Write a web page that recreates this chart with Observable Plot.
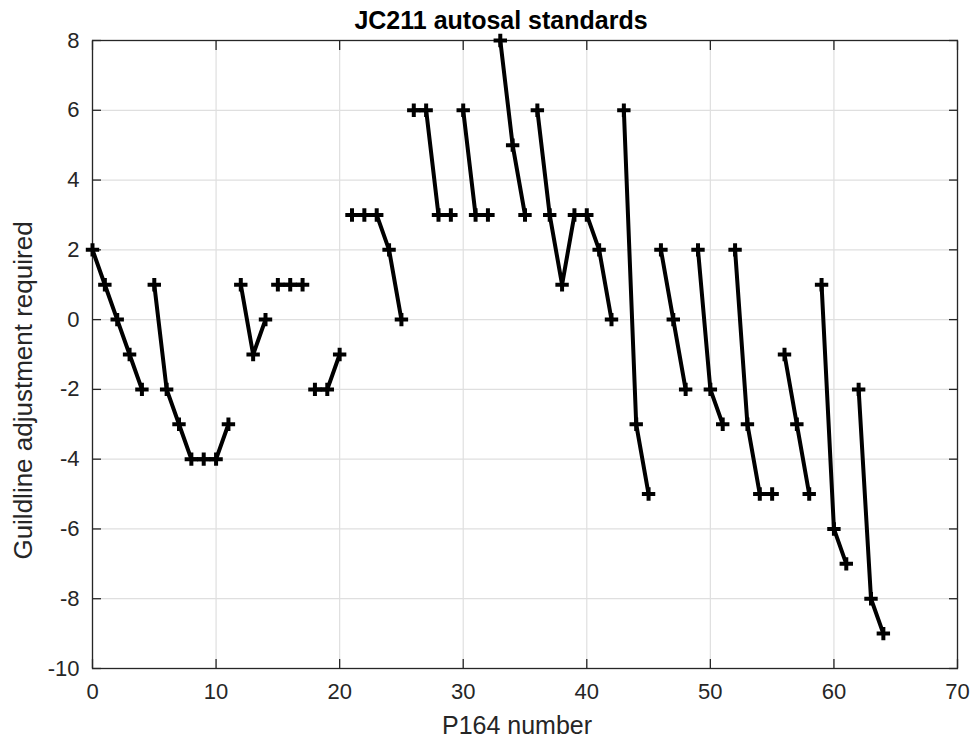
<!DOCTYPE html>
<html>
<head>
<meta charset="utf-8">
<script src="https://cdn.jsdelivr.net/npm/d3@7"></script>
<script src="https://cdn.jsdelivr.net/npm/@observablehq/plot@0.6"></script>
<style>
  html, body { margin: 0; padding: 0; background: #fff; }
  #chart svg { display: block; }
</style>
</head>
<body>
<div id="chart"></div>
<script>
// ---- data ----
const p164 = [0,1,2,3,4,5,6,7,8,9,10,11,12,13,14,15,16,17,18,19,20,21,22,23,24,25,26,27,28,29,30,31,32,33,34,35,36,37,38,39,40,41,42,43,44,45,46,47,48,49,50,51,52,53,54,55,56,57,58,59,60,61,62,63,64];
const adjustment = [2,1,0,-1,-2, 1,-2,-3,-4,-4,-4,-3, 1,-1,0, 1,1,1, -2,-2,-1, 3,3,3,2,0, 6,6,3,3, 6,3,3, 8,5,3, 6,3,1,3,3,2,0, 6,-3,-5, 2,0,-2, 2,-2,-3, 2,-3,-5,-5, -1,-3,-5, 1,-6,-7, -2,-8,-9];
const run = [1,1,1,1,1, 2,2,2,2,2,2,2, 3,3,3, 4,4,4, 5,5,5, 6,6,6,6,6, 7,7,7,7, 8,8,8, 9,9,9, 10,10,10,10,10,10,10, 11,11,11, 12,12,12, 13,13,13, 14,14,14,14, 15,15,15, 16,16,16, 17,17,17];
const xTicks = [0,10,20,30,40,50,60,70];
const yTicks = [-10,-8,-6,-4,-2,0,2,4,6,8];
const titleText = "JC211 autosal standards";
const xLabel = "P164 number";
const yLabel = "Guildline adjustment required";

const data = p164.map((x, i) => ({x, y: adjustment[i], run: run[i]}));

const plusSymbol = {
  draw(ctx, size) {
    const r = Math.sqrt(size / Math.PI);
    ctx.moveTo(-r, 0); ctx.lineTo(r, 0);
    ctx.moveTo(0, -r); ctx.lineTo(0, r);
  }
};

const axisColor = "#262626";
const font = "'Liberation Sans', Arial, Helvetica, sans-serif";
const fmt = (d) => String(d);

const chart = Plot.plot({
  width: 973,
  height: 743,
  marginLeft: 92,
  marginRight: 16,
  marginTop: 40,
  marginBottom: 75,
  style: {fontFamily: font, fontSize: "22px", color: axisColor, background: "#fff"},
  x: {domain: [0, 70]},
  y: {domain: [-10, 8]},
  marks: [
    Plot.gridX(xTicks, {stroke: "#dfdfdf", strokeOpacity: 1, strokeWidth: 1.2}),
    Plot.gridY(yTicks, {stroke: "#dfdfdf", strokeOpacity: 1, strokeWidth: 1.2}),
    Plot.frame({stroke: axisColor, strokeWidth: 1.3}),
    Plot.axisX(xTicks, {anchor: "bottom", tickSize: -9, tickPadding: 24, tickFormat: fmt, label: null, stroke: axisColor, strokeWidth: 1.3, fill: axisColor}),
    Plot.axisX(xTicks, {anchor: "top", tickSize: -9, tickFormat: () => "", label: null, stroke: axisColor, strokeWidth: 1.3}),
    Plot.axisY(yTicks, {anchor: "left", tickSize: -9, tickPadding: 22, tickFormat: fmt, label: null, stroke: axisColor, strokeWidth: 1.3, fill: axisColor}),
    Plot.axisY(yTicks, {anchor: "right", tickSize: -9, tickFormat: () => "", label: null, stroke: axisColor, strokeWidth: 1.3}),
    Plot.line(data, {x: "x", y: "y", z: "run", stroke: "#000", strokeWidth: 4}),
    Plot.dot(data, {x: "x", y: "y", symbol: plusSymbol, r: 6.7, stroke: "#000", strokeWidth: 4, fill: "none"}),
    Plot.text([titleText], {frameAnchor: "top", dx: -24, dy: -20, fontWeight: "bold", fontSize: 25, fill: "#000", lineAnchor: "middle", textAnchor: "middle"}),
    Plot.text([xLabel], {frameAnchor: "bottom", dx: -8, dy: 57, fontSize: 25, fill: axisColor, lineAnchor: "middle", textAnchor: "middle"}),
    Plot.text([yLabel], {frameAnchor: "left", dx: -69, dy: 36, rotate: -90, fontSize: 26, fill: axisColor, lineAnchor: "middle", textAnchor: "middle"})
  ]
});
document.getElementById("chart").appendChild(chart);
</script>
</body>
</html>
